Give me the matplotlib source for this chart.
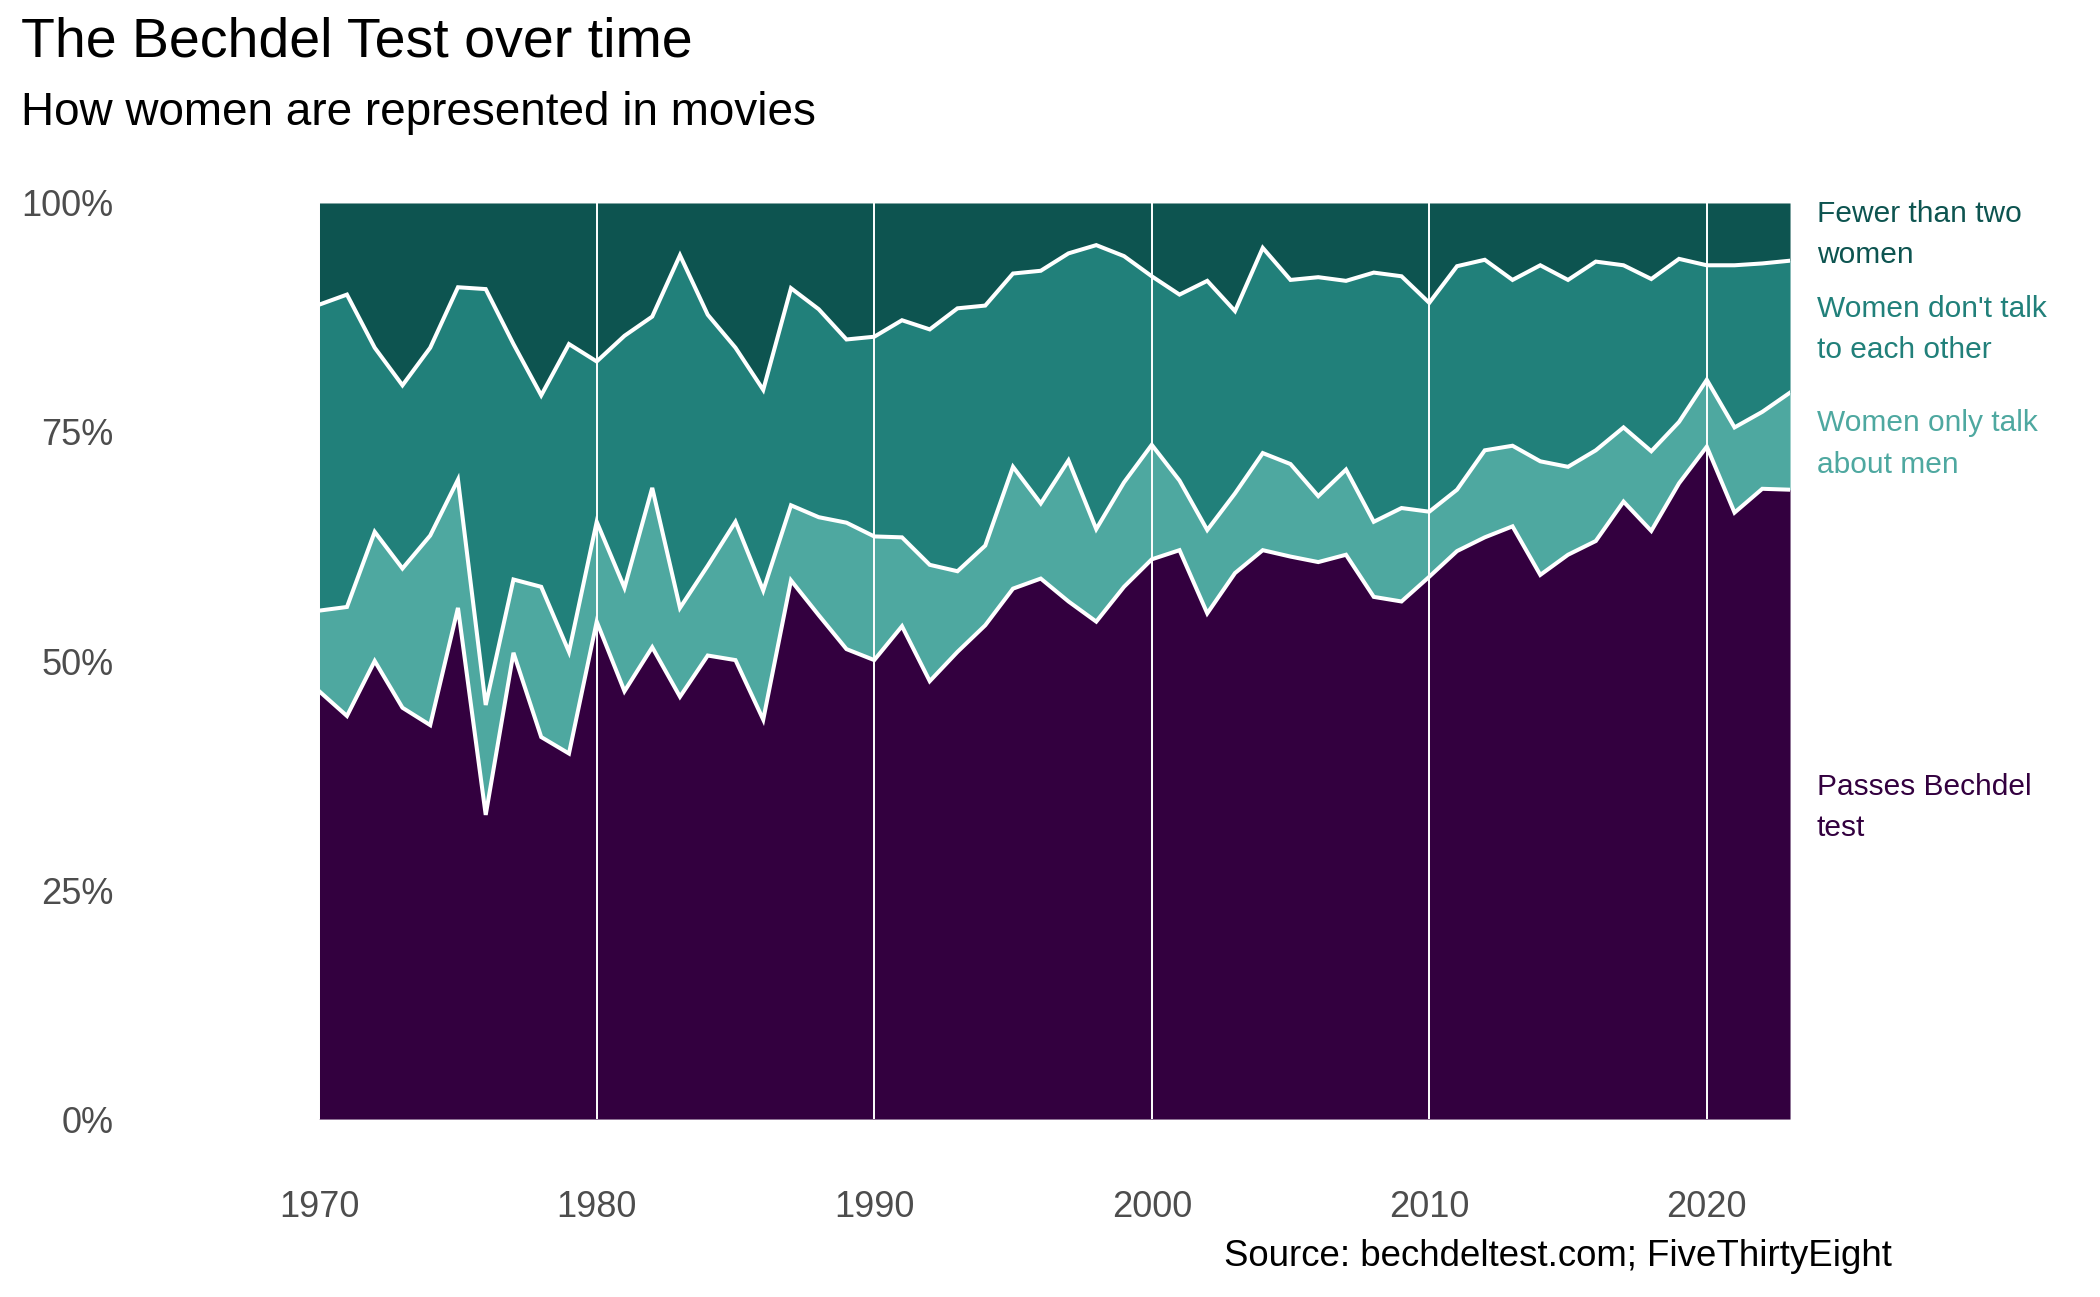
import numpy as np
import matplotlib
matplotlib.use("Agg")
import matplotlib.pyplot as plt

# shares of films per year (% of films)
years = list(range(1970, 2024))

# cumulative boundaries (bottom to top)
passes = [46.7, 44.0, 50.0, 44.9, 43.0, 55.8, 33.2, 50.9, 41.7, 39.9,
          54.3, 46.7, 51.5, 46.1, 50.6, 50.1, 43.6, 58.8, 55.0, 51.3,
          50.1, 53.8, 47.8, 51.0, 53.9, 57.9, 59.0, 56.5, 54.3, 58.1,
          61.1, 62.1, 55.2, 59.6, 62.1, 61.4, 60.8, 61.6, 57.0, 56.5,
          59.2, 62.0, 63.5, 64.7, 59.4, 61.6, 63.1, 67.4, 64.2, 69.4,
          73.4, 66.2, 68.8, 68.7]
men_top = [55.5, 55.9, 64.1, 60.1, 63.7, 69.8, 45.2, 58.9, 58.1, 51.0,
           65.2, 58.0, 68.9, 55.8, 60.4, 65.2, 57.7, 67.0, 65.7, 65.1,
           63.6, 63.5, 60.5, 59.8, 62.6, 71.2, 67.2, 71.9, 64.4, 69.5,
           73.6, 69.7, 64.3, 68.3, 72.7, 71.5, 68.0, 70.9, 65.2, 66.7,
           66.3, 68.7, 73.0, 73.5, 71.8, 71.2, 73.0, 75.5, 72.9, 76.1,
           80.7, 75.5, 77.2, 79.3]
notalk_top = [88.9, 90.0, 84.2, 80.1, 84.2, 90.8, 90.6, 84.6, 79.0, 84.6,
              82.7, 85.5, 87.6, 94.3, 87.8, 84.2, 79.6, 90.7, 88.4, 85.1,
              85.4, 87.2, 86.2, 88.5, 88.8, 92.3, 92.6, 94.5, 95.4, 94.2,
              92.0, 90.0, 91.5, 88.2, 95.1, 91.6, 91.9, 91.5, 92.4, 92.0,
              89.1, 93.1, 93.8, 91.6, 93.2, 91.6, 93.6, 93.2, 91.7, 93.9,
              93.2, 93.2, 93.4, 93.7]

labels = ["Fewer than two\nwomen", "Women don't talk\nto each other",
          "Women only talk\nabout men", "Passes Bechdel\ntest"]
colors = ["#0d5450", "#21807a", "#4ea8a0", "#33003f"]

yr = np.array(years)
b0 = np.zeros(len(yr))
b1 = np.array(passes)
b2 = np.array(men_top)
b3 = np.array(notalk_top)
b4 = np.full(len(yr), 100.0)

plt.rcParams['font.family'] = ['Liberation Sans', 'DejaVu Sans']
fig = plt.figure(figsize=(21, 12.97), dpi=100)
ax = fig.add_axes([0.0595, 0.1372, 0.7929, 0.7063])

layers = [(b3, b4), (b2, b3), (b1, b2), (b0, b1)]
for (lo, hi), c in zip(layers, colors):
    ax.fill_between(yr, lo, hi, color=c, lw=0)

for b in (b1, b2, b3):
    ax.plot(yr, b, color="white", lw=2.9, solid_joinstyle="miter")

for d in range(1970, 2030, 10):
    ax.axvline(d, color="white", lw=1.4)

# labels at the middle of each band in the last year
for (lo, hi), c, lab in zip(layers, colors, labels):
    ax.text(1.016, ((lo[-1] + hi[-1]) / 2) / 100 - 0.003, lab, transform=ax.transAxes,
            color=c, fontsize=21.5, va="center", ha="left", linespacing=1.6)

ax.set_xlim(1963, 2023)
ax.set_ylim(0, 100)
ax.set_xticks(range(1970, 2030, 10))
ax.set_yticks([0, 25, 50, 75, 100])
ax.set_yticklabels(["0%", "25%", "50%", "75%", "100%"])
ax.tick_params(length=0, labelsize=26, colors="#4d4d4d")
ax.tick_params(axis="x", pad=51)
ax.tick_params(axis="y", pad=8)
for s in ax.spines.values():
    s.set_visible(False)

fig.text(0.01, 0.967, "The Bechdel Test over time", fontsize=40, va="center")
fig.text(0.01, 0.913, "How women are represented in movies", fontsize=33, va="center")
fig.text(0.901, 0.031, "Source: bechdeltest.com; FiveThirtyEight", fontsize=26.4,
         ha="right", va="center")

fig.savefig("out.png", dpi=100)
